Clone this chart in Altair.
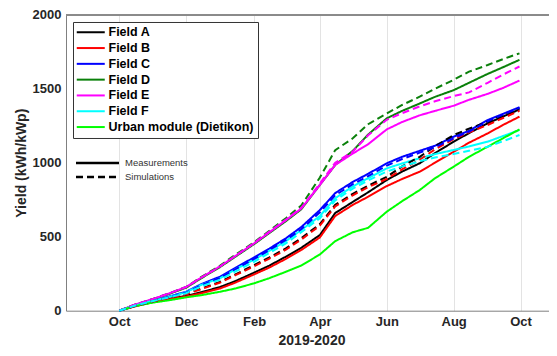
import altair as alt
import pandas as pd

DATES = ["2019/10/01", "2019/10/15", "2019/11/01", "2019/11/15", "2019/12/01", "2019/12/15",
         "2020/01/01", "2020/01/15", "2020/02/01", "2020/02/15", "2020/03/01", "2020/03/15",
         "2020/04/01", "2020/04/15", "2020/05/01", "2020/05/15", "2020/06/01", "2020/06/15",
         "2020/07/01", "2020/07/15", "2020/08/01", "2020/08/15", "2020/09/01", "2020/09/15",
         "2020/09/30"]

FIELDS = ["Field A", "Field B", "Field C", "Field D", "Field E", "Field F", "Urban module (Dietikon)"]
COLORS = ["#000000", "#ff0000", "#0000ff", "#0a800a", "#ff00ff", "#00ffff", "#00ff00"]
TYPES = ["Measurements", "Simulations"]

# Measurements (kWh/kWp, cumulative)
MEAS_A = [0, 30, 60, 80, 100, 125, 160, 200, 257, 305, 365, 425, 511, 660, 735, 800, 883, 940, 996, 1065, 1142, 1200, 1266, 1312, 1360]
MEAS_B = [0, 29, 58, 76, 95, 118, 150, 190, 245, 292, 350, 410, 495, 640, 715, 770, 842, 890, 939, 1000, 1074, 1135, 1198, 1255, 1311]
MEAS_C = [0, 35, 70, 95, 128, 180, 230, 290, 360, 420, 489, 565, 680, 795, 870, 925, 996, 1040, 1080, 1115, 1176, 1215, 1288, 1330, 1375]
MEAS_D = [0, 38, 78, 112, 155, 220, 295, 365, 450, 525, 605, 685, 850, 985, 1080, 1190, 1300, 1350, 1400, 1445, 1490, 1540, 1600, 1645, 1695]
MEAS_E = [0, 40, 80, 115, 160, 225, 300, 370, 455, 530, 612, 690, 850, 985, 1062, 1125, 1225, 1275, 1320, 1350, 1385, 1425, 1465, 1505, 1555]
MEAS_F = [0, 34, 68, 92, 125, 175, 220, 280, 345, 405, 470, 545, 640, 760, 840, 895, 962, 995, 1030, 1058, 1086, 1110, 1142, 1180, 1221]
MEAS_U = [0, 30, 55, 70, 90, 105, 128, 150, 185, 220, 263, 305, 380, 470, 530, 560, 669, 740, 815, 895, 973, 1040, 1108, 1165, 1225]

# Simulations
SIM_A = [0, 32, 64, 88, 115, 150, 195, 245, 308, 360, 421, 490, 585, 715, 790, 845, 905, 975, 1040, 1110, 1187, 1230, 1277, 1322, 1367]
SIM_B = [0, 32, 63, 86, 112, 146, 190, 240, 300, 352, 412, 480, 575, 705, 780, 835, 890, 955, 1020, 1090, 1160, 1205, 1255, 1302, 1350]
SIM_C = [0, 34, 68, 92, 122, 172, 222, 280, 350, 410, 478, 550, 665, 780, 855, 910, 980, 1025, 1068, 1105, 1165, 1210, 1280, 1325, 1370]
SIM_D = [0, 40, 80, 115, 160, 228, 305, 378, 462, 540, 625, 710, 900, 1085, 1165, 1260, 1333, 1390, 1446, 1500, 1560, 1615, 1660, 1700, 1739]
SIM_E = [0, 40, 80, 115, 160, 225, 300, 372, 458, 535, 615, 695, 860, 1000, 1075, 1185, 1290, 1335, 1380, 1415, 1450, 1475, 1540, 1595, 1650]
SIM_F = [0, 33, 66, 90, 118, 165, 210, 265, 330, 390, 455, 530, 625, 745, 825, 880, 940, 975, 1010, 1035, 1059, 1080, 1108, 1145, 1187]

series = [
    ("Field A", "Measurements", MEAS_A), ("Field B", "Measurements", MEAS_B),
    ("Field C", "Measurements", MEAS_C), ("Field D", "Measurements", MEAS_D),
    ("Field E", "Measurements", MEAS_E), ("Field F", "Measurements", MEAS_F),
    ("Urban module (Dietikon)", "Measurements", MEAS_U),
    ("Field A", "Simulations", SIM_A), ("Field B", "Simulations", SIM_B),
    ("Field C", "Simulations", SIM_C), ("Field D", "Simulations", SIM_D),
    ("Field E", "Simulations", SIM_E), ("Field F", "Simulations", SIM_F),
]
rows = []
for f, t, vals in series:
    for d, v in zip(DATES, vals):
        rows.append({"date": d, "value": v, "field": f, "type": t})
df = pd.DataFrame(rows)

FONT = "Liberation Sans"
TXT = "#262626"

x_ticks = [alt.DateTime(year=2019, month=10, date=1), alt.DateTime(year=2019, month=12, date=1),
           alt.DateTime(year=2020, month=2, date=1), alt.DateTime(year=2020, month=4, date=1),
           alt.DateTime(year=2020, month=6, date=1), alt.DateTime(year=2020, month=8, date=1),
           alt.DateTime(year=2020, month=10, date=1)]

x_enc = alt.X("date:T",
              scale=alt.Scale(domain=[alt.DateTime(year=2019, month=8, date=13, hours=12),
                                      alt.DateTime(year=2020, month=10, date=26, hours=22)]),
              axis=alt.Axis(values=x_ticks, format="%b", title="2019-2020", ticks=False,
                            labelFont=FONT, labelFontWeight="bold", labelFontSize=13, labelColor=TXT,
                            labelPadding=5, domainColor="#808080", gridColor="#e3e3e3",
                            titleFont=FONT, titleFontWeight="bold", titleFontSize=14, titleColor=TXT,
                            titleX=245.5, titleY=34, titleBaseline="alphabetic", titleAlign="center"))
y_scale = alt.Scale(domain=[0, 2000], nice=False)

lines = alt.Chart(df).mark_line(strokeWidth=2).encode(
    x=x_enc,
    y=alt.Y("value:Q", scale=y_scale,
            axis=alt.Axis(values=[0, 500, 1000, 1500, 2000], format="d", title="Yield (kWh/kWp)",
                          ticks=False, labelFont=FONT, labelFontWeight="bold", labelFontSize=13,
                          labelColor=TXT, labelPadding=5, domainColor="#808080", gridColor="#e3e3e3",
                          titleFont=FONT, titleFontWeight="bold", titleFontSize=14, titleColor=TXT,
                          titleX=-41, titleY=148, titleBaseline="alphabetic", titleAngle=270,
                          titleAlign="center")),
    color=alt.Color("field:N", scale=alt.Scale(domain=FIELDS, range=COLORS),
                    legend=alt.Legend(title=None, orient="none", legendX=7, legendY=7.3, padding=4,
                                      strokeColor="#333333", fillColor="white", cornerRadius=0,
                                      symbolType="M-1.3,0H4.3", symbolSize=100, symbolStrokeWidth=2,
                                      symbolOffset=0, labelOffset=19, labelFont=FONT,
                                      labelFontWeight="bold", labelFontSize=12.5, labelColor="black",
                                      rowPadding=2.8, labelLimit=300)),
    strokeDash=alt.StrokeDash("type:N", scale=alt.Scale(domain=TYPES, range=[[1, 0], [7, 4]]),
                              legend=alt.Legend(title=None, orient="none", legendX=10, legendY=141.8,
                                                padding=0, symbolType="M-1.3,0H7.3", symbolSize=100,
                                                symbolStrokeWidth=2.5, symbolStrokeColor="black",
                                                symbolOffset=0, labelOffset=36, labelFont=FONT,
                                                labelFontSize=9.5, labelColor="#333333", rowPadding=2)),
)

top_border = alt.Chart(df).mark_rule(color="#8c8c8c", strokeWidth=1).encode(
    y=alt.datum(2000, scale=y_scale)
)

chart = alt.layer(top_border, lines).properties(
    width=483, height=296,
    autosize=alt.AutoSizeParams(type="none"),
    padding={"left": 58, "top": 6.7, "right": 0, "bottom": 37},
).configure_view(stroke=None)

chart.save("out.html", embed_options={"renderer": "svg", "actions": False})
